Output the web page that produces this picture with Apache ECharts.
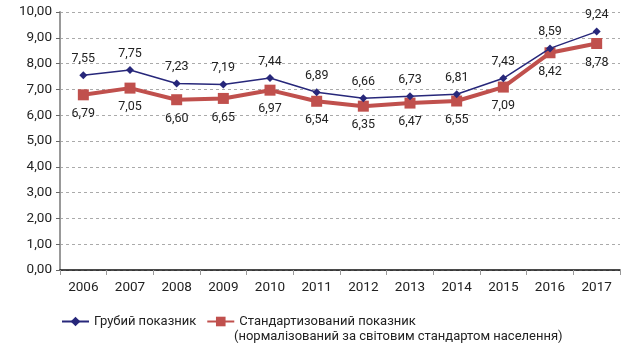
<!DOCTYPE html>
<html lang="uk">

<head>
    <meta charset="UTF-8">
    <title></title>
    <style>
        html,
        body {
            margin: 0;
            padding: 0;
            width: 634px;
            height: 351px;
            background: #fff;
        }
    </style>
</head>

<body>
    <div id="main" style="width: 634px;height:351px;"></div>
    <script src="https://cdn.jsdelivr.net/npm/echarts@6/dist/echarts.min.js"></script>
    <script type="text/javascript">
        var years = ['2006', '2007', '2008', '2009', '2010', '2011', '2012', '2013', '2014', '2015', '2016', '2017'];
        var crude = [7.55, 7.75, 7.23, 7.19, 7.44, 6.89, 6.66, 6.73, 6.81, 7.43, 8.59, 9.24];
        var standardized = [6.79, 7.05, 6.60, 6.65, 6.97, 6.54, 6.35, 6.47, 6.55, 7.09, 8.42, 8.78];
        var crudeName = 'Грубий показник';
        var stdName = 'Стандартизований показник';
        var stdNote = '(нормалізований за світовим стандартом населення)';

        var font = 'Roboto';
        function comma(v) {
            return Number(v).toFixed(2).replace('.', ',');
        }

        var myChart = echarts.init(document.getElementById('main'));
        var option = {
            animation: false,
            textStyle: { fontFamily: font },
            grid: { left: 60, right: 14, top: 12, bottom: 81 },
            legend: {
                left: 56,
                top: 310,
                itemGap: 10,
                itemWidth: 27,
                itemHeight: 12,
                textStyle: { fontFamily: font, fontSize: 13, color: '#222' },
                data: [crudeName, stdName]
            },
            graphic: [{
                type: 'text',
                left: 234,
                top: 330,
                style: { text: stdNote, fontFamily: font, fontSize: 13, fill: '#222' }
            }],
            xAxis: {
                type: 'category',
                data: years,
                axisLine: { lineStyle: { color: '#111', width: 1.5 } },
                axisTick: { show: true, length: 5, lineStyle: { color: '#999' } },
                axisLabel: { color: '#222', fontSize: 13.5, margin: 11 }
            },
            yAxis: {
                type: 'value',
                min: 0,
                max: 10,
                interval: 1,
                axisLine: { show: true, lineStyle: { color: '#999', width: 2 } },
                axisTick: { show: true, length: 4, lineStyle: { color: '#666' } },
                axisLabel: { color: '#222', fontSize: 13.5, margin: 8, formatter: comma },
                splitLine: { lineStyle: { color: '#aaa', type: [3, 3], width: 1 } }
            },
            series: [{
                name: crudeName,
                type: 'line',
                data: crude,
                symbol: 'diamond',
                symbolSize: 8,
                itemStyle: { color: '#27277a' },
                lineStyle: { color: '#27277a', width: 1.5 },
                label: {
                    show: true,
                    position: 'top',
                    distance: 6,
                    color: '#222',
                    fontSize: 12.5,
                    formatter: function (p) { return comma(p.value); }
                },
                z: 3
            }, {
                name: stdName,
                type: 'line',
                data: standardized,
                symbol: 'rect',
                symbolSize: 11,
                itemStyle: { color: '#c0504d' },
                lineStyle: { color: '#c0504d', width: 4 },
                label: {
                    show: true,
                    position: 'bottom',
                    distance: 7,
                    color: '#222',
                    fontSize: 12.5,
                    formatter: function (p) { return comma(p.value); }
                },
                z: 2
            }]
        };
        myChart.setOption(option);
    </script>
</body>

</html>
